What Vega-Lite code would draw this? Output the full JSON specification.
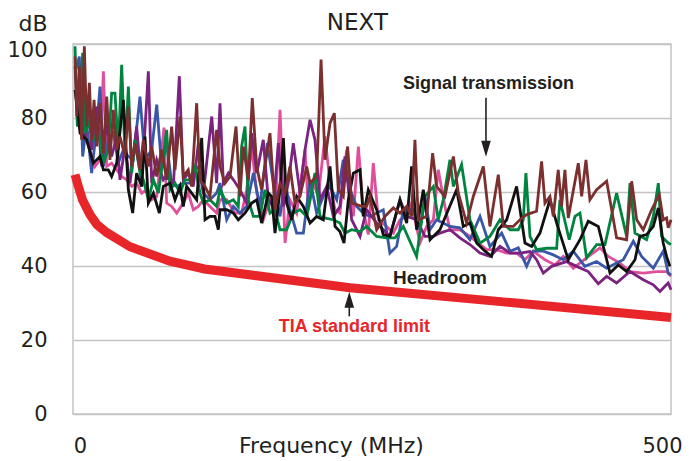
{
"$schema": "https://vega.github.io/schema/vega-lite/v6.json",
"width": 598, "height": 370,
"autosize": "none",
"padding": {"left": 73, "top": 44, "right": 28, "bottom": 47},
"background": "white",
"config": {
 "view": {"stroke": "#c4c4c4", "strokeWidth": 1.5},
 "axis": {"domain": false, "ticks": false, "labelFont": "DejaVu Sans", "labelFontSize": 21, "labelColor": "#231f20", "titleFont": "DejaVu Sans", "titleFontSize": 22, "titleFontWeight": "normal", "titleColor": "#231f20", "gridColor": "#c4c4c4", "gridWidth": 1.3}
},
"layer": [
 {
  "data": {"values": [
{"s":"pink","f":1.7,"db":87.6},{"s":"pink","f":5.9,"db":77.7},{"s":"pink","f":10.0,"db":75.0},{"s":"pink","f":14.2,"db":71.4},{"s":"pink","f":18.4,"db":66.9},{"s":"pink","f":22.6,"db":68.7},{"s":"pink","f":25.4,"db":92.6},{"s":"pink","f":28.2,"db":66.9},{"s":"pink","f":32.3,"db":67.8},{"s":"pink","f":36.5,"db":66.0},{"s":"pink","f":40.7,"db":64.2},{"s":"pink","f":44.9,"db":63.3},{"s":"pink","f":49.1,"db":61.5},{"s":"pink","f":53.2,"db":62.4},{"s":"pink","f":57.4,"db":59.7},{"s":"pink","f":61.6,"db":60.6},{"s":"pink","f":65.8,"db":57.9},{"s":"pink","f":70.0,"db":58.8},{"s":"pink","f":76.1,"db":77.4},{"s":"pink","f":78.3,"db":57.0},{"s":"pink","f":82.5,"db":56.1},{"s":"pink","f":86.7,"db":54.3},{"s":"pink","f":92.2,"db":57.0},{"s":"pink","f":96.4,"db":59.7},{"s":"pink","f":100.6,"db":55.2},{"s":"pink","f":104.8,"db":56.1},{"s":"pink","f":109.0,"db":57.9},{"s":"pink","f":114.5,"db":56.1},{"s":"pink","f":120.1,"db":54.3},
{"s":"pink","f":122.9,"db":57.9},{"s":"pink","f":128.5,"db":57.9},{"s":"pink","f":135.4,"db":54.3},{"s":"pink","f":141.0,"db":54.3},{"s":"pink","f":145.2,"db":60.6},{"s":"pink","f":149.4,"db":72.3},{"s":"pink","f":153.6,"db":59.7},{"s":"pink","f":159.1,"db":52.5},{"s":"pink","f":164.7,"db":57.9},{"s":"pink","f":168.9,"db":53.4},{"s":"pink","f":173.1,"db":82.2},{"s":"pink","f":177.3,"db":46.2},{"s":"pink","f":181.4,"db":57.9},{"s":"pink","f":187.0,"db":54.3},{"s":"pink","f":194.0,"db":71.4},{"s":"pink","f":196.8,"db":55.2},{"s":"pink","f":200.9,"db":62.4},{"s":"pink","f":205.1,"db":58.8},{"s":"pink","f":210.7,"db":75.0},{"s":"pink","f":214.9,"db":62.4},{"s":"pink","f":219.1,"db":55.2},{"s":"pink","f":223.2,"db":54.3},{"s":"pink","f":228.8,"db":71.4},{"s":"pink","f":234.4,"db":53.4},{"s":"pink","f":238.6,"db":72.3},{"s":"pink","f":242.7,"db":55.2},{"s":"pink","f":246.9,"db":48.5},
{"s":"pink","f":251.1,"db":67.8},{"s":"pink","f":255.3,"db":52.5},{"s":"pink","f":262.2,"db":50.7},{"s":"pink","f":267.8,"db":48.9},{"s":"pink","f":273.4,"db":52.5},{"s":"pink","f":279.0,"db":53.4},{"s":"pink","f":283.1,"db":57.0},{"s":"pink","f":290.1,"db":46.2},{"s":"pink","f":295.7,"db":50.7},{"s":"pink","f":301.3,"db":52.5},{"s":"pink","f":305.4,"db":66.0},{"s":"pink","f":311.0,"db":56.1},{"s":"pink","f":315.2,"db":49.8},{"s":"pink","f":323.5,"db":49.8},{"s":"pink","f":331.9,"db":48.0},{"s":"pink","f":338.9,"db":46.2},{"s":"pink","f":345.9,"db":44.4},{"s":"pink","f":354.2,"db":44.4},{"s":"pink","f":362.6,"db":43.5},{"s":"pink","f":370.9,"db":43.5},
{"s":"pink","f":377.9,"db":41.7},{"s":"pink","f":384.8,"db":44.0},{"s":"pink","f":394.6,"db":41.7},{"s":"pink","f":403.0,"db":40.3},{"s":"pink","f":409.9,"db":42.6},{"s":"pink","f":418.3,"db":39.4},{"s":"pink","f":429.4,"db":42.2},{"s":"pink","f":440.6,"db":44.9},{"s":"pink","f":447.6,"db":42.6},{"s":"pink","f":457.3,"db":40.8},{"s":"pink","f":465.7,"db":38.5},{"s":"pink","f":476.8,"db":38.1},{"s":"pink","f":488.0,"db":38.5},{"s":"pink","f":496.3,"db":38.5},{"s":"pink","f":500,"db":37.2},

{"s":"blue","f":1.7,"db":92.2},{"s":"blue","f":5.3,"db":96.6},{"s":"blue","f":8.1,"db":69.6},{"s":"blue","f":11.4,"db":78.6},{"s":"blue","f":15.6,"db":65.1},{"s":"blue","f":19.8,"db":77.7},{"s":"blue","f":22.6,"db":88.5},{"s":"blue","f":25.4,"db":66.9},{"s":"blue","f":29.5,"db":74.1},{"s":"blue","f":33.7,"db":75.9},{"s":"blue","f":37.9,"db":67.8},{"s":"blue","f":42.1,"db":71.4},{"s":"blue","f":46.3,"db":69.6},{"s":"blue","f":50.4,"db":68.7},{"s":"blue","f":56.0,"db":85.8},{"s":"blue","f":60.2,"db":68.7},{"s":"blue","f":65.8,"db":71.4},{"s":"blue","f":70.0,"db":83.6},{"s":"blue","f":74.1,"db":66.9},{"s":"blue","f":78.3,"db":73.2},{"s":"blue","f":82.5,"db":62.4},{"s":"blue","f":86.7,"db":61.5},{"s":"blue","f":92.2,"db":62.4},{"s":"blue","f":97.8,"db":62.4},{"s":"blue","f":100.6,"db":66.0},{"s":"blue","f":104.8,"db":66.9},{"s":"blue","f":109.0,"db":59.7},{"s":"blue","f":114.5,"db":57.9},{"s":"blue","f":120.1,"db":59.7},
{"s":"blue","f":122.9,"db":62.4},{"s":"blue","f":128.5,"db":52.5},{"s":"blue","f":134.1,"db":56.1},{"s":"blue","f":139.6,"db":54.3},{"s":"blue","f":145.2,"db":56.1},{"s":"blue","f":150.8,"db":65.1},{"s":"blue","f":156.3,"db":56.1},{"s":"blue","f":162.5,"db":73.2},{"s":"blue","f":167.5,"db":62.4},{"s":"blue","f":173.1,"db":53.4},{"s":"blue","f":177.3,"db":63.3},{"s":"blue","f":181.4,"db":55.2},{"s":"blue","f":187.0,"db":48.9},{"s":"blue","f":192.6,"db":48.9},{"s":"blue","f":198.2,"db":63.3},{"s":"blue","f":203.7,"db":54.3},{"s":"blue","f":209.3,"db":58.8},{"s":"blue","f":214.9,"db":61.5},{"s":"blue","f":220.5,"db":57.9},{"s":"blue","f":226.0,"db":68.7},{"s":"blue","f":231.6,"db":60.6},{"s":"blue","f":237.2,"db":56.1},{"s":"blue","f":242.7,"db":54.3},{"s":"blue","f":248.3,"db":53.4},
{"s":"blue","f":259.4,"db":55.2},{"s":"blue","f":265.0,"db":43.5},{"s":"blue","f":270.6,"db":45.3},{"s":"blue","f":276.2,"db":55.2},{"s":"blue","f":284.5,"db":55.2},{"s":"blue","f":290.1,"db":49.8},{"s":"blue","f":294.3,"db":58.8},{"s":"blue","f":298.5,"db":49.8},{"s":"blue","f":304.0,"db":52.5},{"s":"blue","f":315.2,"db":50.7},{"s":"blue","f":323.5,"db":50.3},{"s":"blue","f":331.9,"db":47.1},{"s":"blue","f":340.3,"db":53.4},{"s":"blue","f":348.6,"db":45.3},{"s":"blue","f":358.4,"db":48.9},{"s":"blue","f":365.4,"db":44.0},{"s":"blue","f":372.3,"db":44.9},
{"s":"blue","f":379.3,"db":39.9},{"s":"blue","f":384.8,"db":44.0},{"s":"blue","f":393.2,"db":44.0},{"s":"blue","f":401.6,"db":43.0},{"s":"blue","f":409.9,"db":41.7},{"s":"blue","f":418.3,"db":44.0},{"s":"blue","f":428.0,"db":39.9},{"s":"blue","f":437.8,"db":41.2},{"s":"blue","f":446.2,"db":39.4},{"s":"blue","f":454.5,"db":40.8},{"s":"blue","f":460.1,"db":41.7},{"s":"blue","f":468.5,"db":46.7},{"s":"blue","f":475.4,"db":42.6},{"s":"blue","f":485.2,"db":39.4},{"s":"blue","f":493.5,"db":44.0},{"s":"blue","f":497.7,"db":38.1},{"s":"blue","f":500,"db":37.6},

{"s":"purple","f":1.7,"db":94.0},{"s":"purple","f":4.5,"db":77.7},{"s":"purple","f":7.2,"db":89.4},{"s":"purple","f":10.0,"db":74.1},{"s":"purple","f":12.8,"db":85.8},{"s":"purple","f":15.6,"db":71.4},{"s":"purple","f":19.8,"db":83.1},{"s":"purple","f":24.0,"db":66.9},{"s":"purple","f":28.2,"db":78.6},{"s":"purple","f":32.3,"db":69.6},{"s":"purple","f":36.5,"db":75.0},{"s":"purple","f":39.3,"db":63.3},{"s":"purple","f":43.5,"db":72.3},{"s":"purple","f":47.7,"db":62.4},{"s":"purple","f":53.2,"db":77.7},{"s":"purple","f":57.4,"db":61.5},{"s":"purple","f":63.0,"db":92.6},{"s":"purple","f":65.8,"db":62.4},{"s":"purple","f":70.0,"db":68.7},{"s":"purple","f":75.5,"db":63.3},{"s":"purple","f":79.7,"db":65.1},{"s":"purple","f":83.9,"db":61.5},{"s":"purple","f":88.9,"db":91.3},{"s":"purple","f":92.2,"db":63.3},{"s":"purple","f":96.4,"db":65.1},{"s":"purple","f":100.6,"db":61.5},{"s":"purple","f":104.8,"db":73.2},{"s":"purple","f":109.0,"db":59.7},{"s":"purple","f":116.0,"db":80.4},{"s":"purple","f":120.1,"db":62.4},
{"s":"purple","f":122.9,"db":84.0},{"s":"purple","f":125.7,"db":62.4},{"s":"purple","f":129.9,"db":65.1},{"s":"purple","f":134.1,"db":63.3},{"s":"purple","f":139.6,"db":60.6},{"s":"purple","f":145.2,"db":57.0},{"s":"purple","f":149.4,"db":75.9},{"s":"purple","f":153.6,"db":65.1},{"s":"purple","f":159.1,"db":74.1},{"s":"purple","f":163.3,"db":57.9},{"s":"purple","f":167.5,"db":56.1},{"s":"purple","f":171.7,"db":73.2},{"s":"purple","f":175.9,"db":56.1},{"s":"purple","f":180.0,"db":62.4},{"s":"purple","f":184.2,"db":73.2},{"s":"purple","f":189.8,"db":59.7},{"s":"purple","f":194.0,"db":71.4},{"s":"purple","f":198.2,"db":79.5},{"s":"purple","f":202.3,"db":74.1},{"s":"purple","f":206.5,"db":57.9},{"s":"purple","f":212.1,"db":61.5},{"s":"purple","f":217.7,"db":53.4},{"s":"purple","f":223.2,"db":56.1},{"s":"purple","f":227.4,"db":69.6},{"s":"purple","f":233.0,"db":52.5},{"s":"purple","f":240.0,"db":48.0},{"s":"purple","f":245.5,"db":55.2},
{"s":"purple","f":253.9,"db":51.6},{"s":"purple","f":265.0,"db":48.0},{"s":"purple","f":273.4,"db":57.9},{"s":"purple","f":279.0,"db":53.4},{"s":"purple","f":287.3,"db":52.5},{"s":"purple","f":294.3,"db":48.0},{"s":"purple","f":301.3,"db":48.0},{"s":"purple","f":306.8,"db":48.9},{"s":"purple","f":315.2,"db":49.8},{"s":"purple","f":323.5,"db":47.6},{"s":"purple","f":331.9,"db":45.8},{"s":"purple","f":340.3,"db":43.5},{"s":"purple","f":348.6,"db":42.6},{"s":"purple","f":357.0,"db":45.3},{"s":"purple","f":365.4,"db":43.5},{"s":"purple","f":373.7,"db":43.5},
{"s":"purple","f":382.1,"db":43.9},{"s":"purple","f":387.6,"db":41.7},{"s":"purple","f":393.2,"db":38.1},{"s":"purple","f":400.2,"db":39.9},{"s":"purple","f":412.7,"db":41.2},{"s":"purple","f":421.1,"db":39.9},{"s":"purple","f":430.8,"db":38.5},{"s":"purple","f":439.2,"db":35.2},{"s":"purple","f":446.2,"db":37.2},{"s":"purple","f":454.5,"db":35.4},{"s":"purple","f":465.7,"db":38.5},{"s":"purple","f":476.8,"db":36.3},{"s":"purple","f":485.2,"db":34.9},{"s":"purple","f":490.8,"db":33.1},{"s":"purple","f":494.9,"db":34.5},{"s":"purple","f":497.7,"db":35.4},{"s":"purple","f":500,"db":33.6},

{"s":"green","f":1.7,"db":99.4},{"s":"green","f":3.6,"db":77.7},{"s":"green","f":5.9,"db":83.1},{"s":"green","f":8.1,"db":97.6},{"s":"green","f":10.0,"db":75.9},{"s":"green","f":12.8,"db":78.6},{"s":"green","f":17.0,"db":74.1},{"s":"green","f":21.2,"db":76.8},{"s":"green","f":25.4,"db":67.8},{"s":"green","f":29.5,"db":71.4},{"s":"green","f":32.3,"db":86.7},{"s":"green","f":35.1,"db":86.7},{"s":"green","f":37.9,"db":71.4},{"s":"green","f":40.7,"db":94.4},{"s":"green","f":43.5,"db":69.6},{"s":"green","f":46.3,"db":88.5},{"s":"green","f":49.1,"db":65.1},{"s":"green","f":51.8,"db":74.1},{"s":"green","f":56.0,"db":65.1},{"s":"green","f":58.8,"db":63.3},{"s":"green","f":63.0,"db":57.9},{"s":"green","f":67.2,"db":63.3},{"s":"green","f":71.4,"db":59.7},{"s":"green","f":74.1,"db":66.0},{"s":"green","f":78.3,"db":76.8},{"s":"green","f":81.1,"db":60.6},{"s":"green","f":85.3,"db":62.4},{"s":"green","f":89.5,"db":59.7},{"s":"green","f":93.6,"db":63.3},{"s":"green","f":97.8,"db":63.3},{"s":"green","f":102.0,"db":66.9},{"s":"green","f":106.2,"db":59.7},{"s":"green","f":109.0,"db":57.0},{"s":"green","f":114.5,"db":57.9},{"s":"green","f":120.1,"db":56.1},
{"s":"green","f":122.9,"db":60.6},{"s":"green","f":128.5,"db":57.0},{"s":"green","f":134.1,"db":57.9},{"s":"green","f":138.2,"db":56.1},{"s":"green","f":141.0,"db":72.3},{"s":"green","f":143.8,"db":77.7},{"s":"green","f":146.6,"db":57.9},{"s":"green","f":150.8,"db":53.4},{"s":"green","f":156.3,"db":53.4},{"s":"green","f":160.5,"db":60.6},{"s":"green","f":164.7,"db":54.3},{"s":"green","f":168.9,"db":55.2},{"s":"green","f":173.1,"db":49.8},{"s":"green","f":178.6,"db":49.8},{"s":"green","f":184.2,"db":54.3},{"s":"green","f":189.8,"db":55.2},{"s":"green","f":195.4,"db":53.4},{"s":"green","f":202.3,"db":65.1},{"s":"green","f":206.5,"db":53.4},{"s":"green","f":212.1,"db":52.9},{"s":"green","f":217.7,"db":52.5},{"s":"green","f":223.2,"db":51.6},{"s":"green","f":227.4,"db":48.9},{"s":"green","f":233.0,"db":49.8},{"s":"green","f":240.0,"db":49.3},{"s":"green","f":245.5,"db":50.7},
{"s":"green","f":253.9,"db":48.0},{"s":"green","f":262.2,"db":47.6},{"s":"green","f":269.2,"db":47.6},{"s":"green","f":276.2,"db":50.7},{"s":"green","f":287.3,"db":42.6},{"s":"green","f":294.3,"db":58.8},{"s":"green","f":301.3,"db":61.5},{"s":"green","f":305.4,"db":52.5},{"s":"green","f":309.6,"db":57.9},{"s":"green","f":315.2,"db":68.7},{"s":"green","f":318.0,"db":61.5},{"s":"green","f":324.9,"db":67.4},{"s":"green","f":331.9,"db":52.5},{"s":"green","f":340.3,"db":46.2},{"s":"green","f":348.6,"db":48.0},{"s":"green","f":357.0,"db":52.5},{"s":"green","f":365.4,"db":49.8},{"s":"green","f":372.3,"db":49.8},
{"s":"green","f":376.5,"db":52.5},{"s":"green","f":378.7,"db":65.1},{"s":"green","f":382.1,"db":48.0},{"s":"green","f":387.6,"db":44.4},{"s":"green","f":396.0,"db":44.8},{"s":"green","f":404.4,"db":44.8},{"s":"green","f":407.1,"db":57.9},{"s":"green","f":414.9,"db":47.1},{"s":"green","f":419.7,"db":53.4},{"s":"green","f":423.9,"db":54.3},{"s":"green","f":429.4,"db":42.2},{"s":"green","f":437.8,"db":45.8},{"s":"green","f":444.8,"db":45.8},{"s":"green","f":454.5,"db":59.7},{"s":"green","f":462.9,"db":48.0},{"s":"green","f":465.7,"db":62.4},{"s":"green","f":469.9,"db":48.9},{"s":"green","f":479.6,"db":47.1},{"s":"green","f":485.2,"db":53.4},{"s":"green","f":489.4,"db":62.4},{"s":"green","f":492.1,"db":48.0},{"s":"green","f":497.7,"db":46.2},{"s":"green","f":500,"db":45.8},

{"s":"black","f":1.7,"db":87.6},{"s":"black","f":5.9,"db":75.9},{"s":"black","f":11.4,"db":74.1},{"s":"black","f":17.0,"db":67.8},{"s":"black","f":22.6,"db":69.6},{"s":"black","f":25.4,"db":66.0},{"s":"black","f":29.5,"db":66.0},{"s":"black","f":32.3,"db":64.2},{"s":"black","f":36.5,"db":67.8},{"s":"black","f":42.1,"db":84.9},{"s":"black","f":46.3,"db":60.6},{"s":"black","f":49.9,"db":54.3},{"s":"black","f":53.2,"db":65.1},{"s":"black","f":57.4,"db":61.5},{"s":"black","f":60.2,"db":75.0},{"s":"black","f":63.0,"db":57.0},{"s":"black","f":67.2,"db":59.7},{"s":"black","f":72.2,"db":54.3},{"s":"black","f":75.5,"db":61.5},{"s":"black","f":81.1,"db":62.4},{"s":"black","f":85.3,"db":57.9},{"s":"black","f":89.5,"db":61.5},{"s":"black","f":92.2,"db":56.1},{"s":"black","f":95.0,"db":61.5},{"s":"black","f":99.2,"db":59.7},{"s":"black","f":103.4,"db":57.9},{"s":"black","f":107.6,"db":74.6},{"s":"black","f":110.4,"db":52.5},{"s":"black","f":114.5,"db":53.4},{"s":"black","f":118.7,"db":53.4},{"s":"black","f":121.5,"db":49.8},
{"s":"black","f":122.9,"db":55.2},{"s":"black","f":128.5,"db":55.2},{"s":"black","f":134.1,"db":54.3},{"s":"black","f":138.2,"db":52.5},{"s":"black","f":143.8,"db":54.3},{"s":"black","f":149.4,"db":57.0},{"s":"black","f":153.6,"db":57.9},{"s":"black","f":157.7,"db":51.6},{"s":"black","f":163.3,"db":59.7},{"s":"black","f":166.1,"db":58.8},{"s":"black","f":168.9,"db":48.9},{"s":"black","f":173.1,"db":60.6},{"s":"black","f":175.9,"db":74.6},{"s":"black","f":178.6,"db":57.0},{"s":"black","f":182.8,"db":52.5},{"s":"black","f":187.0,"db":58.8},{"s":"black","f":192.6,"db":56.1},{"s":"black","f":198.2,"db":51.6},{"s":"black","f":203.7,"db":53.4},{"s":"black","f":209.3,"db":52.5},{"s":"black","f":214.9,"db":66.9},{"s":"black","f":219.1,"db":50.7},{"s":"black","f":223.2,"db":49.3},{"s":"black","f":226.6,"db":46.2},{"s":"black","f":230.2,"db":57.9},{"s":"black","f":234.4,"db":65.1},{"s":"black","f":240.0,"db":66.0},{"s":"black","f":242.7,"db":53.4},{"s":"black","f":246.9,"db":60.6},
{"s":"black","f":253.9,"db":55.2},{"s":"black","f":259.4,"db":48.5},{"s":"black","f":265.0,"db":48.0},{"s":"black","f":273.4,"db":57.9},{"s":"black","f":279.0,"db":51.6},{"s":"black","f":283.1,"db":66.9},{"s":"black","f":287.3,"db":49.8},{"s":"black","f":292.9,"db":60.6},{"s":"black","f":298.5,"db":47.1},{"s":"black","f":306.8,"db":49.8},{"s":"black","f":313.8,"db":55.2},{"s":"black","f":320.8,"db":60.6},{"s":"black","f":326.3,"db":50.7},{"s":"black","f":331.9,"db":51.6},{"s":"black","f":337.5,"db":46.2},{"s":"black","f":344.5,"db":44.0},{"s":"black","f":350.0,"db":42.6},{"s":"black","f":355.6,"db":49.8},{"s":"black","f":362.6,"db":52.5},{"s":"black","f":370.9,"db":61.5},
{"s":"black","f":377.9,"db":46.2},{"s":"black","f":383.5,"db":45.3},{"s":"black","f":390.4,"db":48.9},{"s":"black","f":398.8,"db":57.9},{"s":"black","f":404.4,"db":51.6},{"s":"black","f":414.1,"db":41.7},{"s":"black","f":423.9,"db":47.1},{"s":"black","f":430.8,"db":52.1},{"s":"black","f":439.2,"db":50.7},{"s":"black","f":449.0,"db":38.1},{"s":"black","f":455.9,"db":40.3},{"s":"black","f":462.9,"db":38.5},{"s":"black","f":469.9,"db":41.7},{"s":"black","f":474.0,"db":48.0},{"s":"black","f":479.6,"db":48.5},{"s":"black","f":485.2,"db":50.7},{"s":"black","f":489.4,"db":55.7},{"s":"black","f":493.5,"db":46.2},{"s":"black","f":496.3,"db":42.6},{"s":"black","f":499.1,"db":39.9},

{"s":"brown","f":1.7,"db":96.6},{"s":"brown","f":3.1,"db":80.4},{"s":"brown","f":5.3,"db":94.0},{"s":"brown","f":7.2,"db":74.1},{"s":"brown","f":9.5,"db":99.4},{"s":"brown","f":11.4,"db":77.7},{"s":"brown","f":13.7,"db":89.5},{"s":"brown","f":15.6,"db":74.1},{"s":"brown","f":17.6,"db":84.9},{"s":"brown","f":19.8,"db":72.3},{"s":"brown","f":22.6,"db":84.0},{"s":"brown","f":25.4,"db":70.5},{"s":"brown","f":28.2,"db":85.8},{"s":"brown","f":30.9,"db":68.7},{"s":"brown","f":33.7,"db":82.2},{"s":"brown","f":36.5,"db":71.4},{"s":"brown","f":39.3,"db":75.0},{"s":"brown","f":43.5,"db":69.6},{"s":"brown","f":46.3,"db":83.1},{"s":"brown","f":49.1,"db":66.9},{"s":"brown","f":51.8,"db":73.2},{"s":"brown","f":56.0,"db":66.0},{"s":"brown","f":58.8,"db":74.1},{"s":"brown","f":63.0,"db":66.9},{"s":"brown","f":65.8,"db":72.3},{"s":"brown","f":70.0,"db":64.2},{"s":"brown","f":74.1,"db":71.4},{"s":"brown","f":78.3,"db":63.3},{"s":"brown","f":82.5,"db":77.7},{"s":"brown","f":85.3,"db":66.0},{"s":"brown","f":89.5,"db":80.4},{"s":"brown","f":92.2,"db":64.2},{"s":"brown","f":96.4,"db":66.0},{"s":"brown","f":99.2,"db":61.5},{"s":"brown","f":103.4,"db":84.0},{"s":"brown","f":106.2,"db":63.3},{"s":"brown","f":110.4,"db":61.5},{"s":"brown","f":114.5,"db":58.8},{"s":"brown","f":120.1,"db":76.8},
{"s":"brown","f":122.9,"db":66.9},{"s":"brown","f":127.1,"db":62.4},{"s":"brown","f":131.3,"db":64.2},{"s":"brown","f":136.3,"db":77.7},{"s":"brown","f":139.6,"db":58.8},{"s":"brown","f":142.4,"db":72.3},{"s":"brown","f":146.6,"db":63.3},{"s":"brown","f":149.9,"db":85.4},{"s":"brown","f":153.6,"db":66.9},{"s":"brown","f":157.7,"db":60.6},{"s":"brown","f":160.5,"db":66.9},{"s":"brown","f":164.7,"db":75.9},{"s":"brown","f":168.9,"db":55.2},{"s":"brown","f":173.1,"db":62.4},{"s":"brown","f":177.3,"db":59.7},{"s":"brown","f":181.4,"db":66.9},{"s":"brown","f":185.6,"db":57.0},{"s":"brown","f":189.8,"db":58.8},{"s":"brown","f":195.4,"db":66.9},{"s":"brown","f":198.2,"db":62.4},{"s":"brown","f":203.7,"db":64.2},{"s":"brown","f":207.4,"db":95.8},{"s":"brown","f":210.7,"db":68.7},{"s":"brown","f":214.9,"db":78.6},{"s":"brown","f":218.5,"db":81.3},{"s":"brown","f":221.8,"db":60.6},{"s":"brown","f":226.0,"db":58.8},{"s":"brown","f":229.6,"db":72.3},{"s":"brown","f":233.0,"db":57.0},{"s":"brown","f":237.2,"db":56.6},{"s":"brown","f":241.4,"db":56.1},{"s":"brown","f":245.5,"db":56.1},
{"s":"brown","f":248.3,"db":58.8},{"s":"brown","f":253.9,"db":49.8},{"s":"brown","f":260.8,"db":53.4},{"s":"brown","f":267.8,"db":55.7},{"s":"brown","f":273.4,"db":54.3},{"s":"brown","f":279.0,"db":56.1},{"s":"brown","f":283.1,"db":53.4},{"s":"brown","f":285.9,"db":74.1},{"s":"brown","f":288.7,"db":52.5},{"s":"brown","f":295.7,"db":53.4},{"s":"brown","f":300.7,"db":70.5},{"s":"brown","f":304.0,"db":61.5},{"s":"brown","f":311.0,"db":58.8},{"s":"brown","f":318.0,"db":69.6},{"s":"brown","f":322.2,"db":59.7},{"s":"brown","f":329.1,"db":51.6},{"s":"brown","f":334.7,"db":58.8},{"s":"brown","f":343.1,"db":66.9},{"s":"brown","f":348.6,"db":50.7},{"s":"brown","f":355.6,"db":64.7},{"s":"brown","f":359.8,"db":50.7},{"s":"brown","f":368.1,"db":50.7},
{"s":"brown","f":373.7,"db":52.5},{"s":"brown","f":379.3,"db":53.9},{"s":"brown","f":387.6,"db":54.8},{"s":"brown","f":391.8,"db":68.3},{"s":"brown","f":394.6,"db":57.0},{"s":"brown","f":398.8,"db":58.8},{"s":"brown","f":401.6,"db":53.4},{"s":"brown","f":405.7,"db":66.0},{"s":"brown","f":408.5,"db":56.1},{"s":"brown","f":411.3,"db":66.0},{"s":"brown","f":414.1,"db":53.0},{"s":"brown","f":422.5,"db":67.8},{"s":"brown","f":425.3,"db":58.8},{"s":"brown","f":428.9,"db":68.7},{"s":"brown","f":432.2,"db":57.9},{"s":"brown","f":437.8,"db":60.6},{"s":"brown","f":446.2,"db":62.9},{"s":"brown","f":454.5,"db":47.6},{"s":"brown","f":462.9,"db":47.1},{"s":"brown","f":467.1,"db":62.9},{"s":"brown","f":471.3,"db":52.5},{"s":"brown","f":476.8,"db":49.8},{"s":"brown","f":483.8,"db":55.2},{"s":"brown","f":490.2,"db":59.3},{"s":"brown","f":493.5,"db":52.5},{"s":"brown","f":496.3,"db":53.0},{"s":"brown","f":497.7,"db":50.3},{"s":"brown","f":500,"db":52.5}
  ]},
  "mark": {"type": "line", "strokeWidth": 2.8},
  "encoding": {
   "x": {"field": "f", "type": "quantitative", "scale": {"domain": [0, 500], "nice": false},
     "axis": {"grid": false, "values": [0, 500], "labelFlush": false, "labelPadding": 21, "labelOffset": {"condition": {"test": "datum.value == 0", "value": 7}, "value": -9}, "title": "Frequency (MHz)", "titleX": 258, "titleY": 38, "titleAlign": "center", "titleBaseline": "alphabetic", "titleAnchor": null}},
   "y": {"field": "db", "type": "quantitative", "scale": {"domain": [0, 100], "nice": false},
     "axis": {"grid": true, "values": [0, 20, 40, 60, 80, 100], "labelPadding": 26, "labelOffset": {"condition": {"test": "datum.value == 100", "value": 6}, "value": 0}, "title": "dB", "titleAngle": 0, "titleAlign": "right", "titleX": -26, "titleY": -14, "titleBaseline": "alphabetic", "titleAnchor": null}},
   "color": {"field": "s", "type": "nominal", "legend": null,
     "scale": {"domain": ["pink", "blue", "purple", "green", "black", "brown"], "range": ["#e0509a", "#3a56a6", "#7b237f", "#00843f", "#111111", "#7c2f2f"]}}
  }
 },
 {
  "data": {"values": [
   {"f":1.7,"db":64.7},{"f":4,"db":62.0},{"f":8,"db":57.8},{"f":14.2,"db":53.9},{"f":20,"db":51.2},{"f":28.4,"db":49.0},{"f":47.7,"db":45.2},{"f":81,"db":41.3},{"f":110,"db":39.2},{"f":231.6,"db":34.1},{"f":360,"db":30.3},{"f":500,"db":26.1}
  ]},
  "mark": {"type": "line", "color": "#e8262a", "strokeWidth": 9, "strokeCap": "butt"},
  "encoding": {"x": {"field": "f", "type": "quantitative"}, "y": {"field": "db", "type": "quantitative"}}
 },
 {
  "data": {"values": [{}]},
  "mark": {"type": "rule", "color": "#231f20", "strokeWidth": 1.6},
  "encoding": {"x": {"datum": 345.3, "type": "quantitative"}, "y": {"datum": 85.5, "type": "quantitative"}, "y2": {"datum": 72}}
 },
 {
  "data": {"values": [{}]},
  "mark": {"type": "point", "shape": "M -0.6 -1 L 0.6 -1 L 0 1 Z", "filled": true, "color": "#231f20", "opacity": 1, "size": 256},
  "encoding": {"x": {"datum": 345.3, "type": "quantitative"}, "y": {"datum": 71.7, "type": "quantitative"}}
 },
 {
  "data": {"values": [{}]},
  "mark": {"type": "rule", "color": "#231f20", "strokeWidth": 1.6},
  "encoding": {"x": {"datum": 231.0, "type": "quantitative"}, "y": {"datum": 26.4, "type": "quantitative"}, "y2": {"datum": 31}}
 },
 {
  "data": {"values": [{}]},
  "mark": {"type": "point", "shape": "M -0.6 1 L 0.6 1 L 0 -1 Z", "filled": true, "color": "#231f20", "opacity": 1, "size": 256},
  "encoding": {"x": {"datum": 231.0, "type": "quantitative"}, "y": {"datum": 30.9, "type": "quantitative"}}
 },
 {
  "data": {"values": [{}]},
  "mark": {"type": "text", "text": "Signal transmission", "font": "Liberation Sans", "fontWeight": "bold", "fontSize": 18, "color": "#231f20", "align": "center", "baseline": "alphabetic"},
  "encoding": {"x": {"datum": 347.4, "type": "quantitative"}, "y": {"datum": 87.8, "type": "quantitative"}}
 },
 {
  "data": {"values": [{}]},
  "mark": {"type": "text", "text": "Headroom", "font": "Liberation Sans", "fontWeight": "bold", "fontSize": 19, "color": "#231f20", "align": "center", "baseline": "alphabetic"},
  "encoding": {"x": {"datum": 306.8, "type": "quantitative"}, "y": {"datum": 35.2, "type": "quantitative"}}
 },
 {
  "data": {"values": [{}]},
  "mark": {"type": "text", "text": "TIA standard limit", "font": "Liberation Sans", "fontWeight": "bold", "fontSize": 18, "color": "#e8262a", "align": "center", "baseline": "alphabetic"},
  "encoding": {"x": {"datum": 235.3, "type": "quantitative"}, "y": {"datum": 22.2, "type": "quantitative"}}
 },
 {
  "data": {"values": [{}]},
  "mark": {"type": "text", "text": "NEXT", "font": "DejaVu Sans", "fontSize": 23, "color": "#231f20", "align": "center", "baseline": "alphabetic"},
  "encoding": {"x": {"datum": 237.8, "type": "quantitative"}, "y": {"datum": 103.9, "type": "quantitative"}}
 }
]
}
